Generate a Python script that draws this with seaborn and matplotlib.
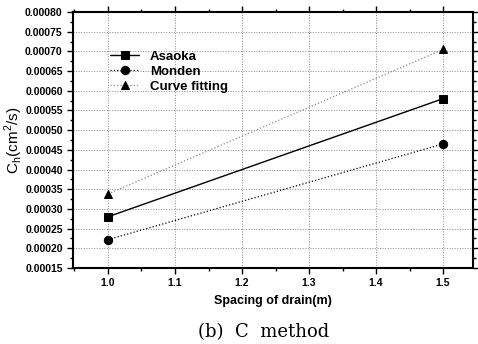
import numpy as np
import pandas as pd
import matplotlib
matplotlib.use('Agg')
import matplotlib.pyplot as plt
from matplotlib.ticker import MultipleLocator, FormatStrFormatter
import seaborn as sns

spacing = [1.0, 1.5]
asaoka = [0.000280, 0.000580]
monden = [0.000222, 0.000465]
curve_fit = [0.000338, 0.000705]
series_names = ['Asaoka', 'Monden', 'Curve fitting']

sns.set_style('ticks')
plt.rcParams['font.family'] = ['Liberation Sans', 'DejaVu Sans']
plt.rcParams['text.color'] = 'black'
plt.rcParams['axes.labelcolor'] = 'black'
plt.rcParams['xtick.color'] = 'black'
plt.rcParams['ytick.color'] = 'black'
plt.rcParams['axes.edgecolor'] = 'black'

fig = plt.figure(figsize=(4.78, 3.44), dpi=100)
ax = fig.add_axes([0.153, 0.221, 0.837, 0.744])

styles = [
    (asaoka, 's', '-', 'black', 1.0),
    (monden, 'o', ':', 'black', 0.9),
    (curve_fit, '^', ':', '#8a8a8a', 0.9),
]
for name, (vals, mk, ls, col, lw) in zip(series_names, styles):
    df = pd.DataFrame({'x': spacing, 'y': vals})
    sns.lineplot(data=df, x='x', y='y', ax=ax, marker=mk, linestyle=ls,
                 color=col, linewidth=lw, markersize=6,
                 markerfacecolor='black', markeredgecolor='black',
                 label=name)

ax.set_xlim(0.948, 1.545)
ax.set_ylim(0.00015, 0.00080)
ax.xaxis.set_major_locator(MultipleLocator(0.1))
ax.xaxis.set_minor_locator(MultipleLocator(0.05))
ax.yaxis.set_major_locator(MultipleLocator(0.00005))
ax.yaxis.set_minor_locator(MultipleLocator(0.000025))
ax.xaxis.set_major_formatter(FormatStrFormatter('%.1f'))
ax.yaxis.set_major_formatter(FormatStrFormatter('%.5f'))
ax.grid(True, which='major', linestyle=':', color='#888888', linewidth=0.7)

ax.tick_params(axis='both', which='both', direction='out', labelsize=7.5,
               top=True, right=True, width=1.0)
ax.tick_params(axis='both', which='major', length=4)
ax.tick_params(axis='both', which='minor', length=2)
for lab in ax.get_xticklabels() + ax.get_yticklabels():
    lab.set_fontweight('bold')
for sp in ax.spines.values():
    sp.set_linewidth(1.5)

ax.set_xlabel('Spacing of drain(m)', fontsize=9, fontweight='bold', labelpad=5)
ax.set_ylabel(r'C$_\mathregular{h}$(cm$^\mathregular{2}$/s)', fontsize=11, labelpad=0)

leg = ax.legend(loc='upper left', bbox_to_anchor=(0.08, 0.87), frameon=False,
                fontsize=9.5, handlelength=2.2, labelspacing=0.2, borderaxespad=0)
for t in leg.get_texts():
    t.set_fontweight('bold')

fig.text(0.552, 0.008, '(b)  C  method', ha='center', va='bottom', fontsize=13,
         family='DejaVu Serif')

fig.savefig('out.png', dpi=100)
